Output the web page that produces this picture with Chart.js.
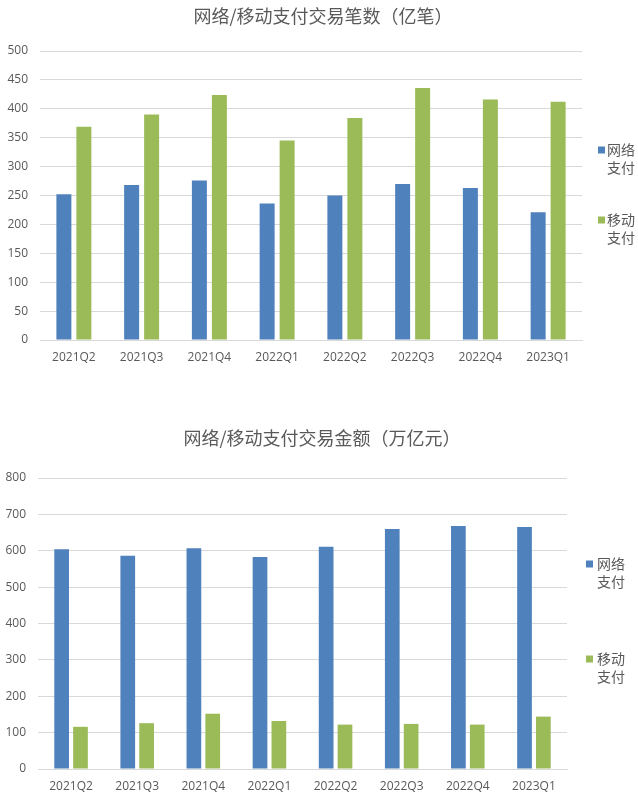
<!DOCTYPE html>
<html>
<head>
<meta charset="utf-8">
<script src="https://cdn.jsdelivr.net/npm/chart.js@4"></script>
<style>
  body { margin: 0; background: #fff; }
  .caja { position: absolute; left: 0; width: 638px; }
</style>
</head>
<body>
<div class="caja" style="top:0;height:400px"><canvas id="graficoBishu" width="638" height="400"></canvas></div>
<div class="caja" style="top:420px;height:391px"><canvas id="graficoJine" width="638" height="391"></canvas></div>
<script>
const trimestres = ['2021Q2', '2021Q3', '2021Q4', '2022Q1', '2022Q2', '2022Q3', '2022Q4', '2023Q1'];
const nombresSeries = ['网络支付', '移动支付'];

// 交易笔数（亿笔）
const bishuWangluo = [252, 268, 276, 236, 250, 270, 263, 221];
const bishuYidong = [369, 390, 424, 345, 384, 436, 416, 412];

// 交易金额（万亿元）
const jineWangluo = [604, 586, 607, 583, 611, 660, 668, 665];
const jineYidong = [116, 126, 152, 132, 122, 124, 122, 144];

const ticksBishu = { max: 500, step: 50 };
const ticksJine = { max: 800, step: 100 };

const AZUL = '#4f81bd';
const VERDE = '#9bbb59';
const GRIS = '#595959';

// título centrado en la página y leyenda a la derecha (cada nombre en dos líneas)
const decoracion = {
    id: 'decoracion',
    afterDraw(chart, args, opts) {
        const ctx = chart.ctx;
        ctx.save();
        ctx.textBaseline = 'middle';

        ctx.font = '18px "Noto Sans CJK SC"';
        ctx.fillStyle = GRIS;
        ctx.textAlign = 'center';
        ctx.fillText(opts.titulo, opts.tituloX, opts.tituloY);

        ctx.font = '14px "Noto Sans CJK SC"';
        ctx.textAlign = 'left';
        chart.data.datasets.forEach((ds, i) => {
            const y = opts.ys[i];
            ctx.fillStyle = ds.backgroundColor;
            ctx.fillRect(opts.sx, y - 3.5, 7, 7);
            ctx.fillStyle = GRIS;
            ctx.fillText(ds.label.slice(0, 2), opts.tx, y);
            ctx.fillText(ds.label.slice(2), opts.tx, y + 18);
        });
        ctx.restore();
    }
};

function crearGrafico(idCanvas, datosA, datosB, escala, cfg) {
    const ctx = document.getElementById(idCanvas).getContext('2d');
    return new Chart(ctx, {
        type: 'bar',
        data: {
            labels: trimestres,
            datasets: [
                { label: nombresSeries[0], data: datosA, backgroundColor: AZUL },
                { label: nombresSeries[1], data: datosB, backgroundColor: VERDE }
            ]
        },
        plugins: [decoracion],
        options: {
            responsive: false,
            animation: false,
            layout: { padding: { right: cfg.padDer, bottom: cfg.padAbajo, left: 0, top: cfg.padArriba } },
            datasets: {
                bar: { categoryPercentage: cfg.cat, barPercentage: cfg.barra }
            },
            scales: {
                x: {
                    grid: { display: false, drawTicks: false },
                    border: { display: true, color: '#d9d9d9' },
                    ticks: {
                        color: GRIS,
                        font: { family: '"Open Sans"', size: 12 },
                        padding: 10,
                        maxRotation: 0
                    },
                    afterFit(eje) { eje.height = 40; }
                },
                y: {
                    min: 0,
                    max: escala.max,
                    grid: { color: '#d9d9d9', drawTicks: false },
                    border: { display: false },
                    ticks: {
                        stepSize: escala.step,
                        color: GRIS,
                        font: { family: '"Open Sans"', size: 12 },
                        padding: 12
                    },
                    afterFit(eje) { eje.width = cfg.anchoY; }
                }
            },
            plugins: {
                legend: { display: false },
                tooltip: { enabled: false },
                title: { display: false },
                decoracion: cfg.deco
            }
        }
    });
}

crearGrafico('graficoBishu', bishuWangluo, bishuYidong, ticksBishu, {
    padDer: 56, padAbajo: 20, padArriba: 51, anchoY: 40,
    cat: 0.59, barra: 0.75,
    deco: { titulo: '网络/移动支付交易笔数（亿笔）', tituloX: 323, tituloY: 16, sx: 598, tx: 607, ys: [150, 220] }
});

crearGrafico('graficoJine', jineWangluo, jineYidong, ticksJine, {
    padDer: 71, padAbajo: 2, padArriba: 58, anchoY: 38,
    cat: 0.57, barra: 0.78,
    deco: { titulo: '网络/移动支付交易金额（万亿元）', tituloX: 322, tituloY: 18, sx: 586, tx: 597, ys: [144, 239] }
});
</script>
</body>
</html>
